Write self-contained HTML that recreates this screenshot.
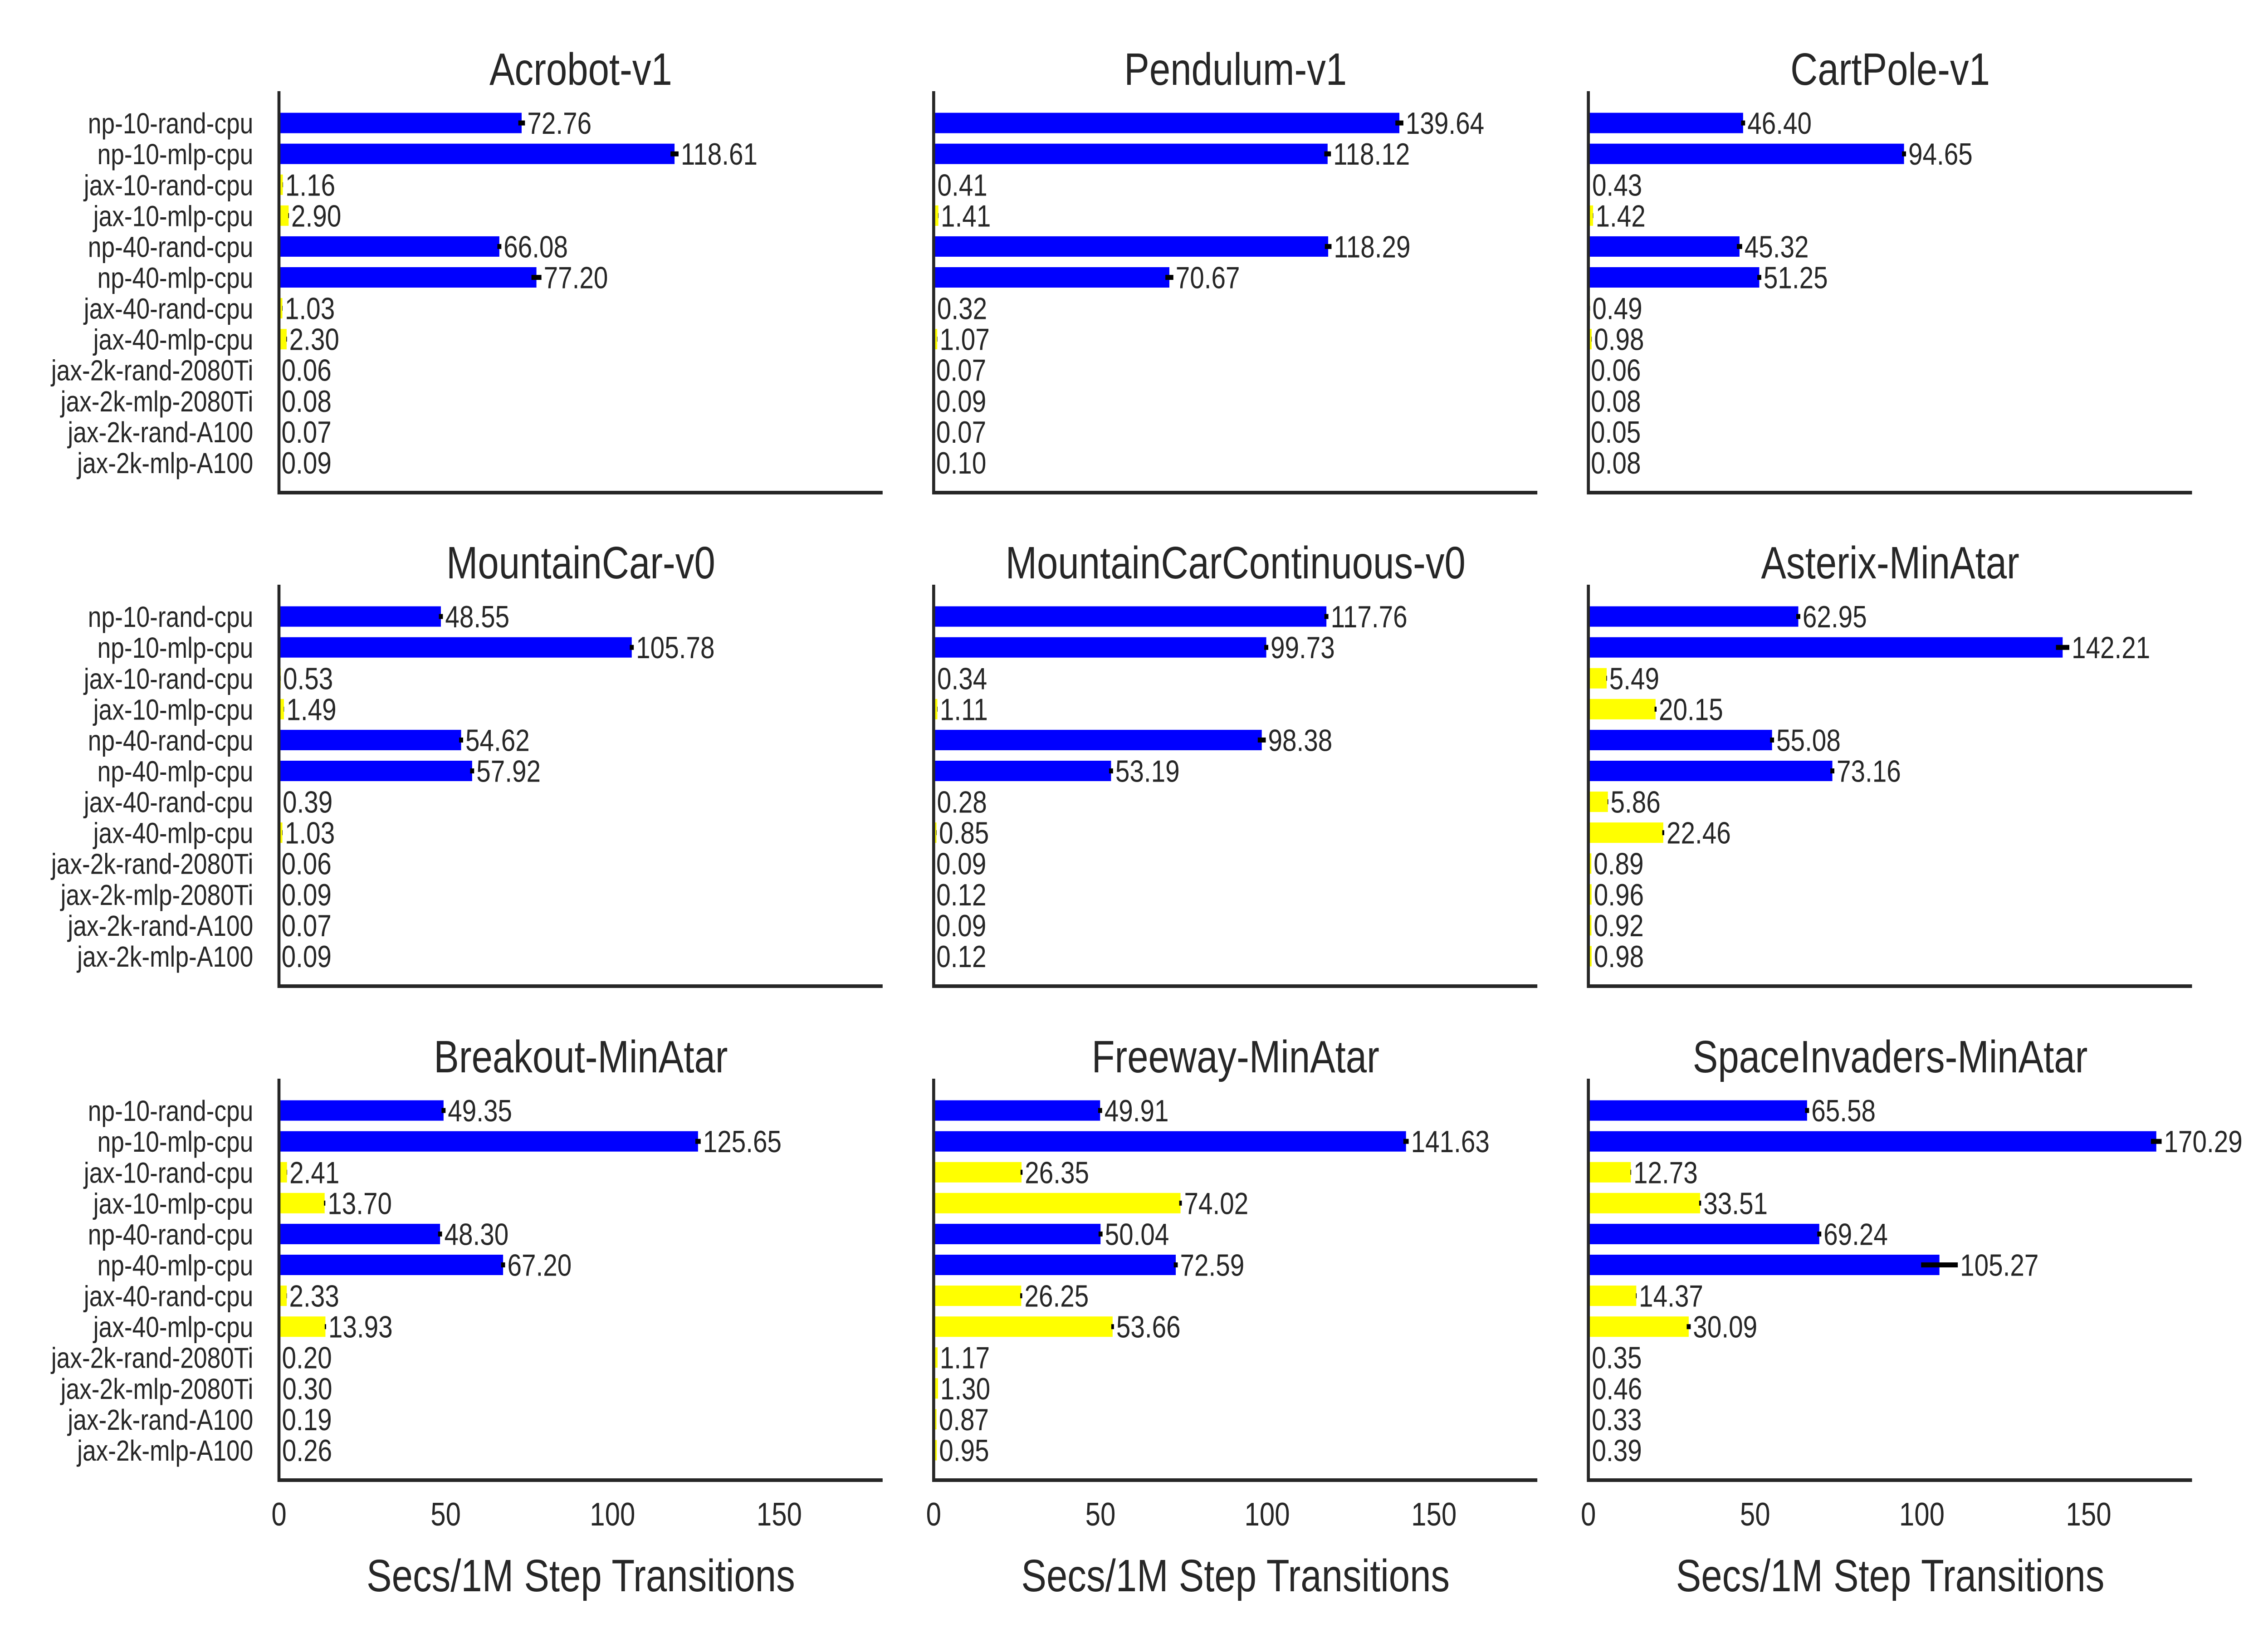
<!DOCTYPE html>
<html><head><meta charset="utf-8"><style>
html,body{margin:0;padding:0;background:#fff;overflow:hidden;width:100vw;height:100vh;}
svg{display:block;width:100vw;height:100vh;font-family:"Liberation Sans",Arial,sans-serif;}
</style></head><body>
<svg id="chart" viewBox="0 0 6000 3600" preserveAspectRatio="none" xmlns="http://www.w3.org/2000/svg"></svg>
<script>
const categories = ["np-10-rand-cpu","np-10-mlp-cpu","jax-10-rand-cpu","jax-10-mlp-cpu","np-40-rand-cpu","np-40-mlp-cpu","jax-40-rand-cpu","jax-40-mlp-cpu","jax-2k-rand-2080Ti","jax-2k-mlp-2080Ti","jax-2k-rand-A100","jax-2k-mlp-A100"];
const envNames = ["Acrobot-v1","Pendulum-v1","CartPole-v1","MountainCar-v0","MountainCarContinuous-v0","Asterix-MinAtar","Breakout-MinAtar","Freeway-MinAtar","SpaceInvaders-MinAtar"];
const acrobot = [72.76,118.61,1.16,2.90,66.08,77.20,1.03,2.30,0.06,0.08,0.07,0.09];
const pendulum = [139.64,118.12,0.41,1.41,118.29,70.67,0.32,1.07,0.07,0.09,0.07,0.10];
const cartpole = [46.40,94.65,0.43,1.42,45.32,51.25,0.49,0.98,0.06,0.08,0.05,0.08];
const mountaincar = [48.55,105.78,0.53,1.49,54.62,57.92,0.39,1.03,0.06,0.09,0.07,0.09];
const mountaincarcont = [117.76,99.73,0.34,1.11,98.38,53.19,0.28,0.85,0.09,0.12,0.09,0.12];
const asterix = [62.95,142.21,5.49,20.15,55.08,73.16,5.86,22.46,0.89,0.96,0.92,0.98];
const breakout = [49.35,125.65,2.41,13.70,48.30,67.20,2.33,13.93,0.20,0.30,0.19,0.26];
const freeway = [49.91,141.63,26.35,74.02,50.04,72.59,26.25,53.66,1.17,1.30,0.87,0.95];
const spaceinvaders = [65.58,170.29,12.73,33.51,69.24,105.27,14.37,30.09,0.35,0.46,0.33,0.39];
const errAcrobot = [1.0,1.2,0.05,0.1,0.6,1.5,0.05,0.1,0,0,0,0];
const errPendulum = [1.2,1.0,0.02,0.05,1.0,1.2,0.02,0.05,0,0,0,0];
const errCartpole = [0.6,0.6,0.02,0.05,0.8,0.6,0.02,0.05,0,0,0,0];
const errMountaincar = [0.6,0.6,0.02,0.05,0.6,0.6,0.02,0.05,0,0,0,0];
const errMountaincarcont = [0.6,0.6,0.02,0.05,1.2,0.6,0.02,0.05,0,0,0,0];
const errAsterix = [0.6,2.0,0.1,0.3,0.6,0.6,0.1,0.3,0,0,0,0];
const errBreakout = [0.6,0.8,0.05,0.2,0.6,0.6,0.05,0.2,0,0,0,0];
const errFreeway = [0.6,0.8,0.3,0.4,0.6,0.6,0.3,0.4,0,0,0,0];
const errSpaceinvaders = [0.6,1.6,0.1,0.3,0.6,5.5,0.1,0.6,0,0,0,0];
const xTicks = [0,50,100,150];
const xMax = 181;

const allValues = [acrobot,pendulum,cartpole,mountaincar,mountaincarcont,asterix,breakout,freeway,spaceinvaders];
const allErrs = [errAcrobot,errPendulum,errCartpole,errMountaincar,errMountaincarcont,errAsterix,errBreakout,errFreeway,errSpaceinvaders];

const NS="http://www.w3.org/2000/svg";
const svg=document.getElementById('chart');
function mk(tag,attrs,parent){const e=document.createElementNS(NS,tag);for(const k in attrs)e.setAttribute(k,attrs[k]);(parent||svg).appendChild(e);return e;}

const colLeft=[738,2470,4202], panelW=1597;
const rowTop=[201,1289,2378], panelH=885;
const pitch=panelH/13, barH=45;

for(let p=0;p<9;p++){
  const c=p%3, r=Math.floor(p/3);
  const x0=colLeft[c], y0=rowTop[r];
  const xs=v=>x0+v/xMax*panelW;
  const yc=i=>y0+(1.03+i)*pitch;
  const g=mk('g',{});
  
  
  const t=mk('text',{x:x0+panelW/2,y:y0-14,'text-anchor':'middle','font-size':100,fill:'#262626'},g);
  t.textContent=envNames[p];
  
  
  const vals=allValues[p], errs=allErrs[p];
  for(let i=0;i<categories.length;i++){
    if(c===0){
      const lab=mk('text',{x:x0-68,y:yc(i)+23,'text-anchor':'end','font-size':64,fill:'#262626'},g);
      lab.textContent=categories[i];
      
      
    }
    const v=vals[i];
    const col=categories[i].startsWith('np')?'#0000ff':'#ffff00';
    const b=mk('rect',{x:x0,y:yc(i)-barH/2,width:Math.max(0,xs(v)-x0),height:barH,fill:col},g);
    
    
    const e=errs[i];
    if(e>0){
      const eb=mk('line',{x1:xs(v-e),x2:xs(v+e),y1:yc(i),y2:yc(i),stroke:'#000','stroke-width':11},g);
      
      
    }
    const vl=mk('text',{x:xs(v+e)+6,y:yc(i)+24,'font-size':68,fill:'#262626'},g);
    vl.textContent=v.toFixed(2);
    
    
  }
  const ax=mk('path',{d:`M${x0} ${y0} V${y0+panelH} H${x0+panelW}`,fill:'none',stroke:'#262626','stroke-width':8},g);
  
  
  if(r===2){
    for(const tv of xTicks){
      const tl=mk('text',{x:xs(tv),y:y0+panelH+100,'text-anchor':'middle','font-size':72,fill:'#262626'},g);
      tl.textContent=tv;
      
      
    }
    const xl=mk('text',{x:x0+panelW/2,y:y0+panelH+245,'text-anchor':'middle','font-size':100,fill:'#262626'},g);
    xl.textContent='Secs/1M Step Transitions';
    
    
  }
}
</script>
</body></html>
